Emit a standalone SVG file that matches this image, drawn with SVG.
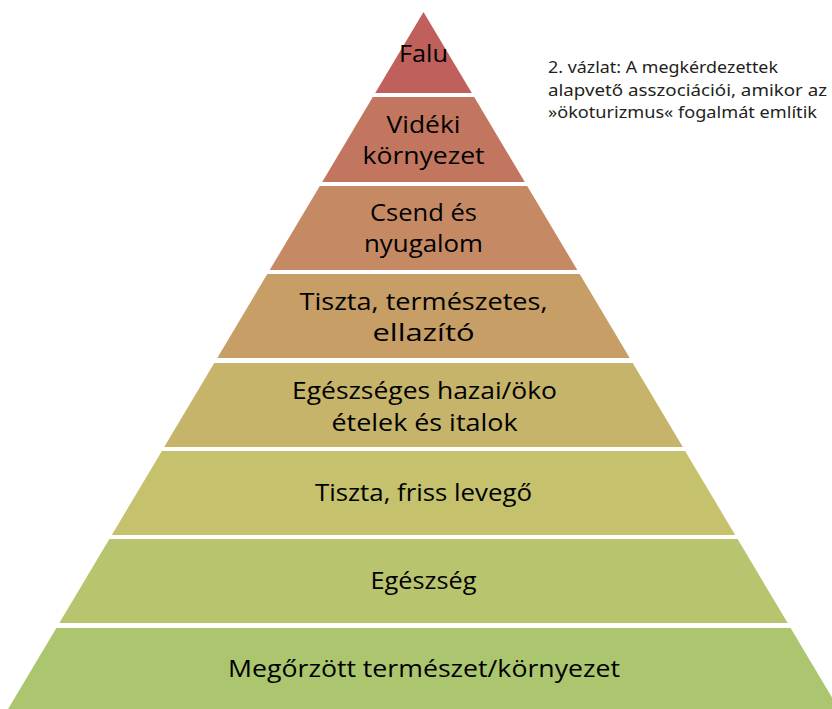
<svg xmlns="http://www.w3.org/2000/svg" width="832" height="709" viewBox="0 0 832 709">
<style>
.lbl{font-family:"Open Sans","Liberation Sans",sans-serif;font-size:23px;fill:#000;text-anchor:middle}
.cap{font-family:"Noto Sans","Liberation Sans",sans-serif;font-size:16px;fill:#231f20}
</style>
<rect width="832" height="709" fill="#fff"/>
<g id="band-falu">
<polygon points="423.5,12 471.8,93 375.2,93" fill="#c0605d"/>
<text class="lbl" x="423.5" y="62" textLength="49" lengthAdjust="spacingAndGlyphs">Falu</text>
</g>
<g id="band-videki">
<polygon points="372.8,97 474.2,97 524.8,182 322.2,182" fill="#c3765f"/>
<text class="lbl" x="423.5" y="133" textLength="74" lengthAdjust="spacingAndGlyphs">Vidéki</text>
<text class="lbl" x="423.5" y="164" textLength="122" lengthAdjust="spacingAndGlyphs">környezet</text>
</g>
<g id="band-csend">
<polygon points="319.8,186 527.2,186 577.3,270 269.7,270" fill="#c58a64"/>
<text class="lbl" x="423.5" y="221" textLength="107" lengthAdjust="spacingAndGlyphs">Csend és</text>
<text class="lbl" x="423.5" y="252" textLength="119" lengthAdjust="spacingAndGlyphs">nyugalom</text>
</g>
<g id="band-tiszta">
<polygon points="267.3,274 579.7,274 629.7,358 217.3,358" fill="#c69e66"/>
<text class="lbl" x="423.5" y="310" textLength="248" lengthAdjust="spacingAndGlyphs">Tiszta, természetes,</text>
<text class="lbl" x="423.5" y="341" textLength="102" lengthAdjust="spacingAndGlyphs">ellazító</text>
</g>
<g id="band-etelek">
<polygon points="214.3,363 632.7,363 682.8,447 164.2,447" fill="#c5b46a"/>
<text class="lbl" x="424.5" y="399" textLength="265" lengthAdjust="spacingAndGlyphs">Egészséges hazai/öko</text>
<text class="lbl" x="424.5" y="431" textLength="186" lengthAdjust="spacingAndGlyphs">ételek és italok</text>
</g>
<g id="band-levego">
<polygon points="161.9,451 685.1,451 735.2,535 111.8,535" fill="#c5c16d"/>
<text class="lbl" x="423.5" y="501" textLength="217" lengthAdjust="spacingAndGlyphs">Tiszta, friss levegő</text>
</g>
<g id="band-egeszseg">
<polygon points="109.4,539 737.6,539 787.7,623 59.3,623" fill="#b9c56e"/>
<text class="lbl" x="423.5" y="589" textLength="106" lengthAdjust="spacingAndGlyphs">Egészség</text>
</g>
<g id="band-termeszet">
<polygon points="56.4,628 790.6,628 840.7,712 6.3,712" fill="#abc66f"/>
<text class="lbl" x="424" y="677" textLength="392" lengthAdjust="spacingAndGlyphs">Megőrzött természet/környezet</text>
</g>
<g id="caption">
<text class="cap" x="548" y="73" textLength="230" lengthAdjust="spacingAndGlyphs">2. vázlat: A megkérdezettek</text>
<text class="cap" x="548" y="96" textLength="279" lengthAdjust="spacingAndGlyphs">alapvető asszociációi, amikor az</text>
<text class="cap" x="548" y="118" textLength="269" lengthAdjust="spacingAndGlyphs">»ökoturizmus« fogalmát említik</text>
</g>
</svg>
